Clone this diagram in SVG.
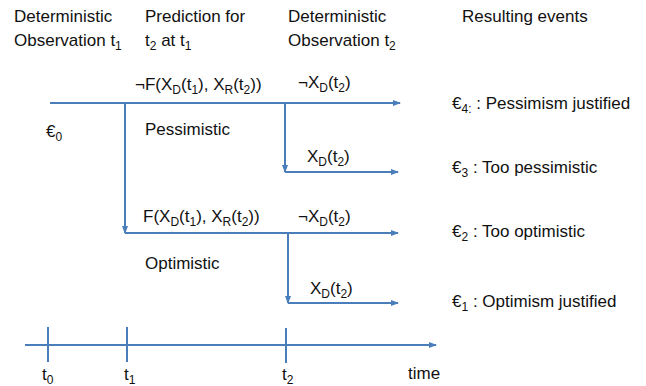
<svg xmlns="http://www.w3.org/2000/svg" width="646" height="386" viewBox="0 0 646 386">
<defs>
<marker id="ah" markerWidth="8" markerHeight="6" refX="7" refY="3" orient="auto" markerUnits="userSpaceOnUse"><path d="M0,0 L8,3 L0,6 z" fill="#4a7ebb"/></marker>
<style>
text{font-family:"Liberation Sans",Arial,sans-serif;font-size:17px;fill:#111}
.s{font-size:12px}
line{stroke:#4a7ebb;stroke-width:2;fill:none}
.a{marker-end:url(#ah)}
</style>
</defs>
<rect width="646" height="386" fill="#fff"/>
<g id="headers">
<text x="14" y="22">Deterministic</text>
<text x="14" y="46">Observation t<tspan class="s" dy="4">1</tspan></text>
<text x="145" y="22">Prediction for</text>
<text x="145" y="46">t<tspan class="s" dy="4">2</tspan><tspan dy="-4"> at t</tspan><tspan class="s" dy="4">1</tspan></text>
<text x="288" y="22">Deterministic</text>
<text x="288" y="46">Observation t<tspan class="s" dy="4">2</tspan></text>
<text x="462" y="22">Resulting events</text>
</g>
<g id="connectors">
<line class="a" x1="50" y1="103" x2="400" y2="103"/>
<line class="a" x1="125" y1="103" x2="125" y2="233"/>
<line class="a" x1="285" y1="103" x2="285" y2="172"/>
<line class="a" x1="285" y1="172" x2="398" y2="172"/>
<line class="a" x1="125" y1="233" x2="398" y2="233"/>
<line class="a" x1="288" y1="233" x2="288" y2="303"/>
<line class="a" x1="288" y1="303" x2="398" y2="303"/>
</g>
<g id="labels">
<text x="135" y="90">¬F(X<tspan class="s" dy="4">D</tspan><tspan dy="-4">(t</tspan><tspan class="s" dy="4">1</tspan><tspan dy="-4">), X</tspan><tspan class="s" dy="4">R</tspan><tspan dy="-4">(t</tspan><tspan class="s" dy="4">2</tspan><tspan dy="-4">))</tspan></text>
<text x="298" y="88">¬X<tspan class="s" dy="4">D</tspan><tspan dy="-4">(t</tspan><tspan class="s" dy="4">2</tspan><tspan dy="-4">)</tspan></text>
<text x="46" y="137">€<tspan class="s" dy="4">0</tspan></text>
<text x="145" y="135">Pessimistic</text>
<text x="307" y="162">X<tspan class="s" dy="4">D</tspan><tspan dy="-4">(t</tspan><tspan class="s" dy="4">2</tspan><tspan dy="-4">)</tspan></text>
<text x="143" y="222">F(X<tspan class="s" dy="4">D</tspan><tspan dy="-4">(t</tspan><tspan class="s" dy="4">1</tspan><tspan dy="-4">), X</tspan><tspan class="s" dy="4">R</tspan><tspan dy="-4">(t</tspan><tspan class="s" dy="4">2</tspan><tspan dy="-4">))</tspan></text>
<text x="298" y="222">¬X<tspan class="s" dy="4">D</tspan><tspan dy="-4">(t</tspan><tspan class="s" dy="4">2</tspan><tspan dy="-4">)</tspan></text>
<text x="145" y="269">Optimistic</text>
<text x="310" y="294">X<tspan class="s" dy="4">D</tspan><tspan dy="-4">(t</tspan><tspan class="s" dy="4">2</tspan><tspan dy="-4">)</tspan></text>
</g>
<g id="events">
<text x="452" y="109">€<tspan class="s" dy="4">4:</tspan><tspan dy="-4"> : Pessimism justified</tspan></text>
<text x="452" y="173">€<tspan class="s" dy="4">3</tspan><tspan dy="-4"> : Too pessimistic</tspan></text>
<text x="452" y="237">€<tspan class="s" dy="4">2</tspan><tspan dy="-4"> : Too optimistic</tspan></text>
<text x="452" y="307">€<tspan class="s" dy="4">1</tspan><tspan dy="-4"> : Optimism justified</tspan></text>
</g>
<g id="timeline">
<line class="a" x1="25" y1="345" x2="436" y2="345"/>
<line x1="48" y1="327" x2="48" y2="362"/>
<line x1="127" y1="327" x2="127" y2="362"/>
<line x1="286" y1="328" x2="286" y2="363"/>
<text x="42" y="380">t<tspan class="s" dy="4">0</tspan></text>
<text x="124" y="380">t<tspan class="s" dy="4">1</tspan></text>
<text x="282" y="380">t<tspan class="s" dy="4">2</tspan></text>
<text x="408" y="379">time</text>
</g>
</svg>
